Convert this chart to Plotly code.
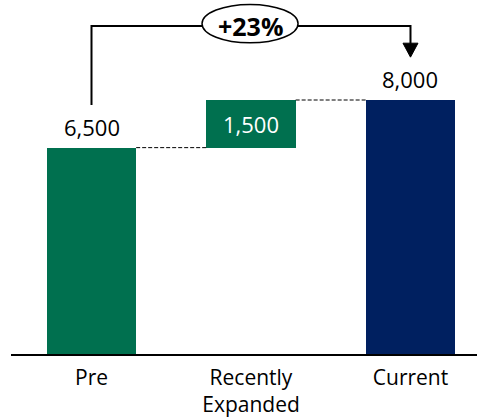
import plotly.graph_objects as go

# Waterfall data
categories = ["Pre", "Recently<br>Expanded", "Current"]
values = [6500, 1500, 8000]
bar_kinds = ["total", "delta", "total"]
bar_colors = ["#00704F", "#00704F", "#002060"]
label_colors = ["#000000", "#FFFFFF", "#000000"]

FONT = "Open Sans, Calibri, sans-serif"

x_pos = list(range(len(categories)))
bases = []
running = 0
for v, k in zip(values, bar_kinds):
    if k == "total":
        bases.append(0)
        running = v
    else:
        bases.append(running)
        running += v
tops = [b + v for b, v in zip(bases, values)]

bar_w = 0.56
fig = go.Figure()
fig.add_trace(go.Bar(
    x=x_pos, y=values, base=bases, width=bar_w,
    marker=dict(color=bar_colors, line=dict(width=0)),
    hoverinfo="skip",
))

annotations = []
shapes = []

# value labels: above totals, inside the floating delta bar
for i, (v, b, t, k) in enumerate(zip(values, bases, tops, bar_kinds)):
    if k == "total":
        annotations.append(dict(x=i, y=t, text=f"{v:,}", showarrow=False,
                                yanchor="bottom", yshift=4,
                                font=dict(size=22, color=label_colors[i], family=FONT)))
    else:
        annotations.append(dict(x=i, y=b + v / 2, text=f"{v:,}", showarrow=False,
                                font=dict(size=22, color=label_colors[i], family=FONT)))

# dashed connectors between bar tops
for i in range(len(values) - 1):
    level = tops[i]
    shapes.append(dict(type="line", xref="x", yref="y",
                       x0=i + bar_w / 2, x1=i + 1 - bar_w / 2, y0=level, y1=level,
                       line=dict(color="#000000", width=1, dash="4px,2px")))

# growth bracket from first to last bar
start, end = values[0], values[-1]
pct = (end - start) / start * 100
last = len(values) - 1
bracket_y = 10330
left_y0 = tops[0] + 1340
arrow_tip = tops[-1] + 1350
head_h = 440
head_half = 0.047
shapes.append(dict(type="path", xref="x", yref="y",
                   path=f"M 0 {left_y0} L 0 {bracket_y} L {last} {bracket_y} L {last} {arrow_tip + head_h - 20}",
                   line=dict(color="#000000", width=2)))
# arrow head
shapes.append(dict(type="path", xref="x", yref="y",
                   path=f"M {last-head_half} {arrow_tip + head_h} L {last+head_half} {arrow_tip + head_h} L {last} {arrow_tip} Z",
                   fillcolor="#000000", line=dict(color="#000000", width=1)))
# ellipse holding the percentage
shapes.append(dict(type="circle", xref="x", yref="y",
                   x0=0.693, x1=1.295, y0=9800, y1=11010,
                   fillcolor="#FFFFFF", line=dict(color="#000000", width=1.5)))
annotations.append(dict(x=1.0, y=bracket_y, text=f"<b>+{pct:.0f}%</b>", showarrow=False,
                        font=dict(size=25, color="#000000", family=FONT)))

fig.update_layout(
    width=477, height=420,
    margin=dict(l=11, r=0, t=0, b=66),
    paper_bgcolor="#FFFFFF", plot_bgcolor="#FFFFFF",
    showlegend=False,
    bargap=0,
    shapes=shapes,
    annotations=annotations,
    xaxis=dict(range=[-0.5047, 2.417], tickvals=x_pos, ticktext=categories,
               showline=True, linecolor="#000000", linewidth=1.5,
               showgrid=False, zeroline=False, ticks="", ticklabelstandoff=4,
               automargin=False,
               tickfont=dict(size=21, color="#000000", family=FONT)),
    yaxis=dict(range=[0, 11150], visible=False, showgrid=False, zeroline=False,
               automargin=False),
)

fig.write_html("out.html")
